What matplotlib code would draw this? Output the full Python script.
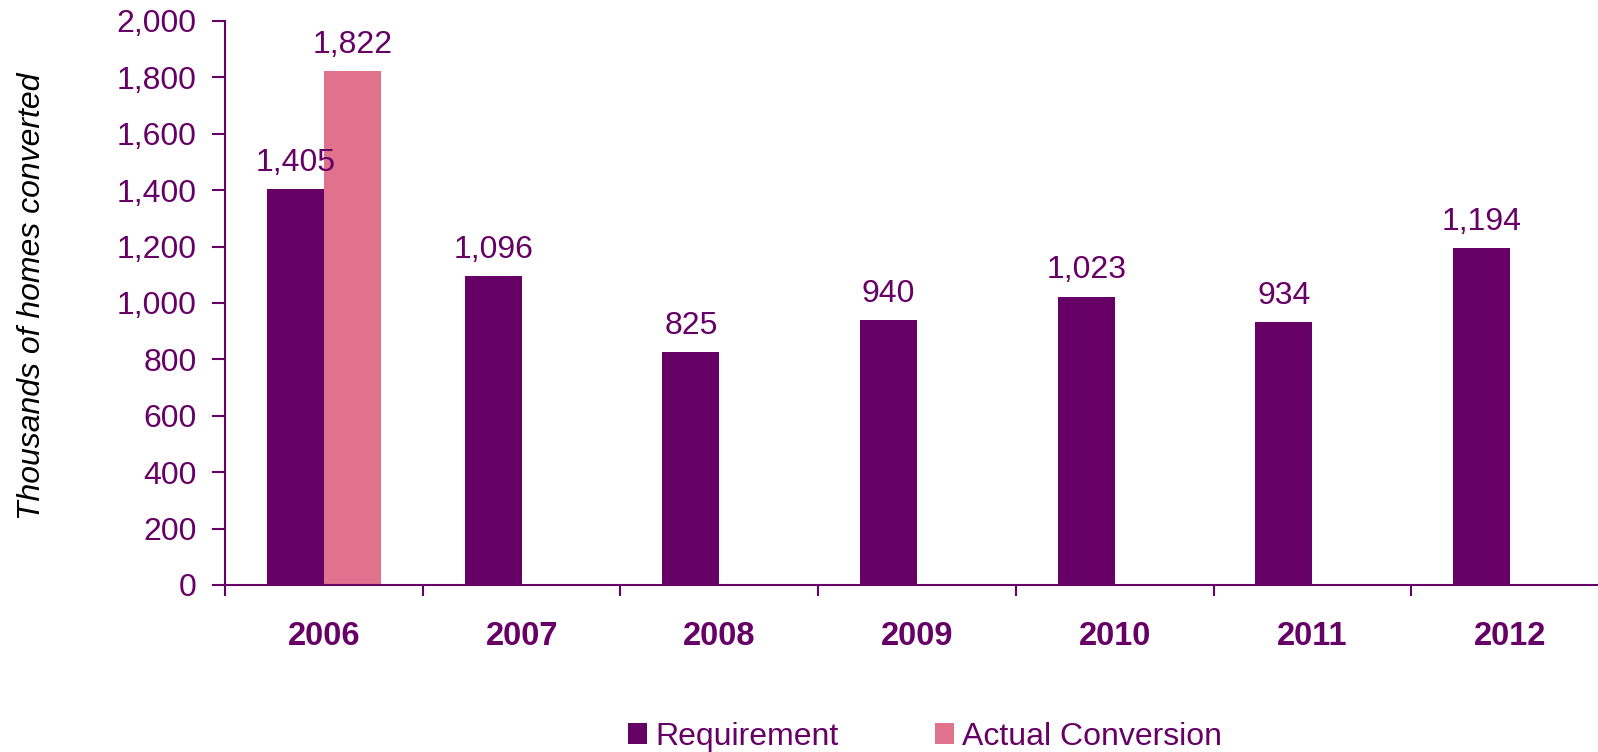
import numpy as np
from matplotlib import rc, pyplot as plt, patches as mpatches

rc('font', family = 'Liberation Sans')

# Dados
anos = ['2006', '2007', '2008', '2009', '2010', '2011', '2012']
requisito = [1405, 1096, 825, 940, 1023, 934, 1194]
anos_conversao = ['2006']
conversao = [1822]
yticks = [0, 200, 400, 600, 800, 1000, 1200, 1400, 1600, 1800, 2000]

roxo = '#660066'
rosa = '#E1728E'

fig = plt.figure(figsize = (15.98, 7.52), dpi = 100)
ax = fig.add_axes([225 / 1598, 167 / 752, 1384 / 1598, 564 / 752])

x = np.arange(len(anos))
w = 0.288
ax.bar(x - w / 2, requisito, width = w, color = roxo, label = 'Requirement')
xc = np.array([anos.index(a) for a in anos_conversao])
ax.bar(xc + w / 2, conversao, width = w, color = rosa, label = 'Actual Conversion')

for xi, v in zip(x, requisito):
    ax.annotate(f'{v:,}', xy = (xi - w / 2, v), xytext = (0, 8), textcoords = 'offset points',
                ha = 'center', va = 'bottom', fontsize = 23, color = roxo)
for xi, v in zip(xc, conversao):
    ax.annotate(f'{v:,}', xy = (xi + w / 2, v), xytext = (0, 8), textcoords = 'offset points',
                ha = 'center', va = 'bottom', fontsize = 23, color = roxo)

ax.set_xlim(-0.5, len(anos) - 0.5)
ax.set_ylim(0, 2000)
ax.set_yticks(yticks)
ax.set_yticklabels([f'{t:,}' for t in yticks])
ax.set_xticks(x)
ax.set_xticklabels(anos, fontsize = 23.5, fontweight = 'bold', color = roxo)
ax.set_xticks(np.arange(-0.5, len(anos)), minor = True)
ax.tick_params(axis = 'x', which = 'major', length = 0, pad = 26)
ax.tick_params(axis = 'x', which = 'minor', length = 8, width = 1.5, color = roxo, direction = 'out')
ax.tick_params(axis = 'y', length = 9.5, width = 1.5, color = roxo, labelsize = 23, labelcolor = roxo, pad = 11)

for s in ['top', 'right']:
    ax.spines[s].set_visible(False)
for s in ['left', 'bottom']:
    ax.spines[s].set_color(roxo)
    ax.spines[s].set_linewidth(1.5)

fig.text(32 / 1598, 1 - 296 / 752, 'Thousands of homes converted', rotation = 90, ha = 'center', va = 'center',
         fontsize = 23, style = 'italic', color = 'black')

handles = [mpatches.Patch(facecolor = roxo, edgecolor = 'none'), mpatches.Patch(facecolor = rosa, edgecolor = 'none')]
leg = fig.legend(handles, ['Requirement', 'Actual Conversion'], loc = 'center', bbox_to_anchor = (925 / 1598, 1 - 737 / 752),
                 ncol = 2, frameon = False, fontsize = 23, handlelength = 0.6, handleheight = 0.65,
                 handletextpad = 0.25, columnspacing = 3.0)
for t in leg.get_texts():
    t.set_color(roxo)

plt.savefig('out.png', dpi = 100)
